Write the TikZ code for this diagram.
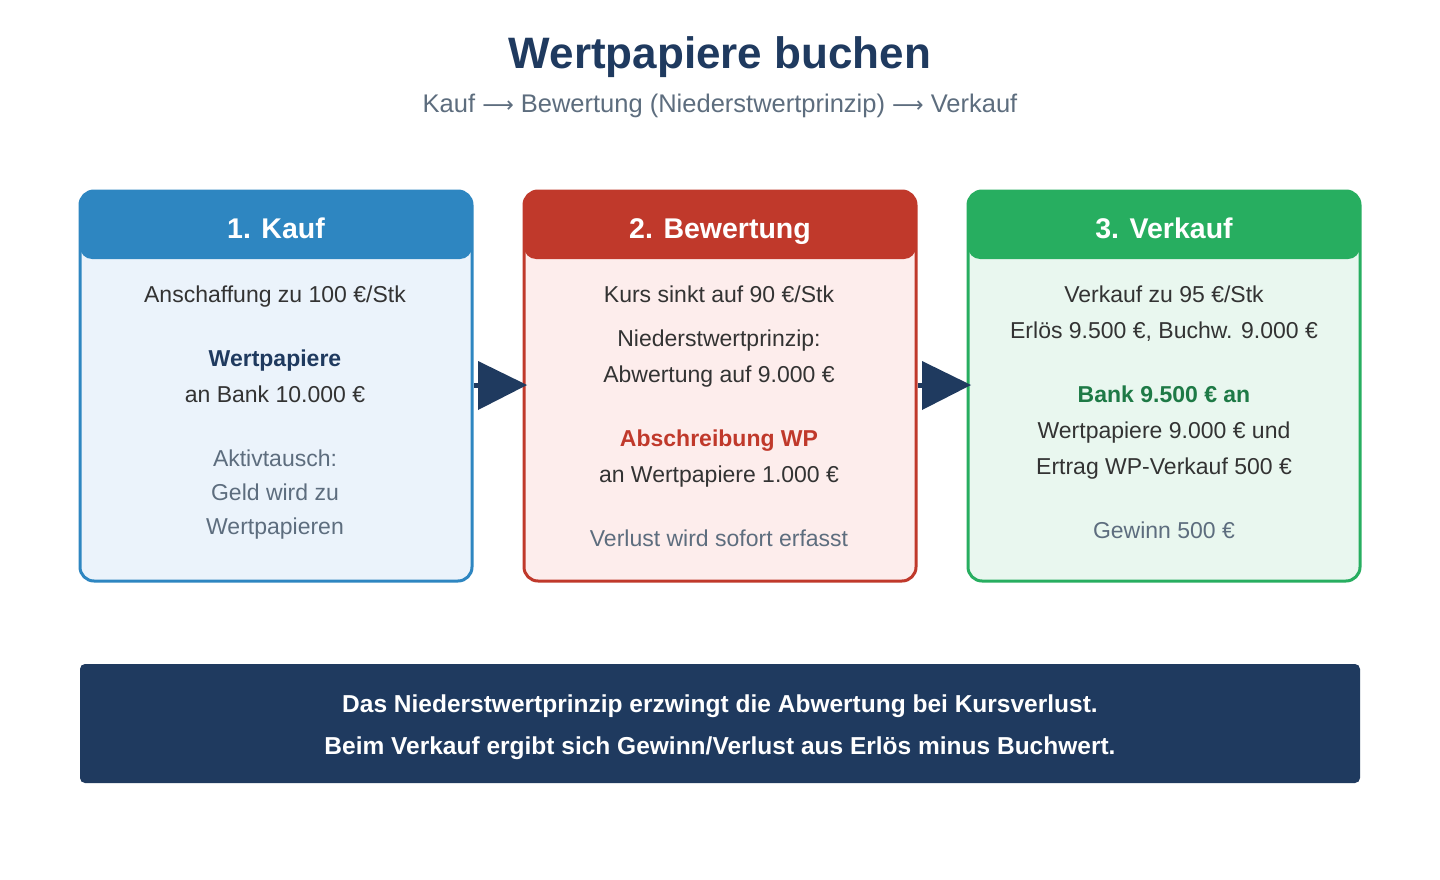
\documentclass[tikz,border=0pt]{standalone}
\usepackage{fontspec}
\setmainfont{Liberation Sans}
\newfontfamily\djv{DejaVu Sans}
\definecolor{navy}{HTML}{1F3A5F}
\definecolor{greyt}{HTML}{5D6D7E}
\definecolor{bodyt}{HTML}{333333}
\definecolor{cblue}{HTML}{2E86C1}\definecolor{fblue}{HTML}{EBF3FB}
\definecolor{cred}{HTML}{C0392B}\definecolor{fred}{HTML}{FDEDEC}
\definecolor{cgreen}{HTML}{27AE60}\definecolor{fgreen}{HTML}{E9F7EF}
\definecolor{tgreen}{HTML}{1E7A46}
\begin{document}
\begin{tikzpicture}[x=1pt,y=-1pt,
  tx/.style={font=\fontsize{23}{26}\selectfont,text=bodyt,inner sep=0pt,text height=16pt,text depth=5pt,yshift=-3pt},
  gx/.style={tx,text=greyt},
  bx/.style={tx,font=\fontsize{23}{26}\selectfont\bfseries},
  hd/.style={font=\fontsize{28.5}{32}\selectfont\bfseries,text=white,inner sep=0pt,text height=20pt,text depth=6pt,yshift=-3pt},
  bn/.style={font=\fontsize{24.5}{28}\selectfont\bfseries,text=white,yshift=-2pt}]
\useasboundingbox[fill=white] (0,0) rectangle (1440,880);
\node[font=\fontsize{44}{50}\selectfont\bfseries,text=navy] (title) at (720,57) {Wertpapiere buchen};
\node[font=\fontsize{25.5}{30}\selectfont,text=greyt] (sub) at (720,106) {Kauf {\djv\fontsize{22}{26}\selectfont ⟶} Bewertung (Niederstwertprinzip) {\djv\fontsize{22}{26}\selectfont ⟶} Verkauf};
\foreach \x/\c/\f/\h/\n in {80/cblue/fblue/1. Kauf/b1,524/cred/fred/2. Bewertung/b2,968/cgreen/fgreen/3. Verkauf/b3}{
  \fill[\f,rounded corners=14pt] (\x,191) rectangle ++(392,390);
  \begin{scope}
    \clip[rounded corners=14pt] (\x,191) rectangle ++(392,390);
    \fill[\c,rounded corners=12pt] (\x,150) rectangle ++(392,109);
  \end{scope}
  \draw[line width=3pt,draw=\c,rounded corners=14pt] (\x,191) rectangle ++(392,390);
  \node[hd] (\n) at (\x+196,228) {\h};
}
% box 1
\node[tx] (a1) at (275,294) {Anschaffung zu 100 €/Stk};
\node[bx,text=navy] (a2) at (275,358) {Wertpapiere};
\node[tx] (a3) at (275,394) {an Bank 10.000 €};
\node[gx] (a4) at (275,458) {Aktivtausch:};
\node[gx] (a5) at (275,492) {Geld wird zu};
\node[gx] (a6) at (275,526) {Wertpapieren};
% box 2
\node[tx] (c1) at (719,294) {Kurs sinkt auf 90 €/Stk};
\node[tx] (c2) at (719,338) {Niederstwertprinzip:};
\node[tx] (c3) at (719,374) {Abwertung auf 9.000 €};
\node[bx,text=cred] (c4) at (719,438) {Abschreibung WP};
\node[tx] (c5) at (719,474) {an Wertpapiere 1.000 €};
\node[gx] (c6) at (719,538) {Verlust wird sofort erfasst};
% box 3
\node[tx] (d1) at (1164,294) {Verkauf zu 95 €/Stk};
\node[tx] (d2) at (1164,330) {Erlös 9.500 €, Buchw. 9.000 €};
\node[bx,text=tgreen] (d3) at (1164,394) {Bank 9.500 € an};
\node[tx] (d4) at (1164,430) {Wertpapiere 9.000 € und};
\node[tx] (d5) at (1164,466) {Ertrag WP-Verkauf 500 €};
\node[gx] (d6) at (1164,530) {Gewinn 500 €};
% arrows
\foreach \x in {474,918}{
  \draw[navy,line width=5pt] (\x,385) -- (\x+10,385);
  \fill[navy] (\x+4,361) -- (\x+53,385) -- (\x+4,410) -- cycle;
}
% banner
\fill[navy,rounded corners=5pt] (80,664) rectangle (1360,783);
\node[bn] (n1) at (720,704) {Das Niederstwertprinzip erzwingt die Abwertung bei Kursverlust.};
\node[bn] (n2) at (720,746) {Beim Verkauf ergibt sich Gewinn/Verlust aus Erlös minus Buchwert.};
\end{tikzpicture}
\end{document}
